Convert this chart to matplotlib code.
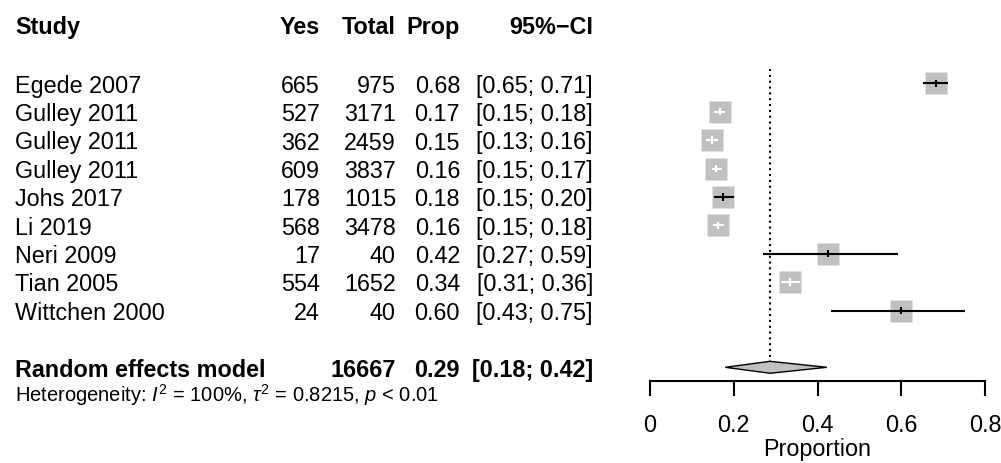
import matplotlib
matplotlib.use("Agg")
import matplotlib.pyplot as plt
from matplotlib.transforms import blended_transform_factory
from matplotlib.patches import Polygon

plt.rcParams['font.family'] = ['Liberation Sans', 'DejaVu Sans']
plt.rcParams['mathtext.fontset'] = 'custom'
plt.rcParams['mathtext.rm'] = 'Liberation Sans'
plt.rcParams['mathtext.it'] = 'Liberation Sans:italic'
plt.rcParams['mathtext.bf'] = 'Liberation Sans:bold'

# ---- data ----
studies = ["Egede 2007", "Gulley 2011", "Gulley 2011", "Gulley 2011", "Johs 2017",
           "Li 2019", "Neri 2009", "Tian 2005", "Wittchen 2000"]
events = [665, 527, 362, 609, 178, 568, 17, 554, 24]
totals = [975, 3171, 2459, 3837, 1015, 3478, 40, 1652, 40]
props = [0.6821, 0.1662, 0.1472, 0.1587, 0.1754, 0.1633, 0.425, 0.3354, 0.600]
ci_low = [0.6517, 0.1534, 0.1333, 0.1473, 0.1522, 0.1512, 0.2704, 0.3126, 0.4333]
ci_high = [0.7113, 0.1796, 0.1620, 0.1708, 0.1999, 0.1759, 0.5911, 0.3581, 0.7514]
pooled_total = 16667
pooled_est = 0.2866
pooled_low = 0.1796
pooled_high = 0.4222
headers = ["Study", "Yes", "Total", "Prop", "95%\u2212CI"]
xticks = [0, 0.2, 0.4, 0.6, 0.8]
xticklabels = ["0", "0.2", "0.4", "0.6", "0.8"]
xlabel = "Proportion"
het_text = r"Heterogeneity: $\mathit{I}^2$ = 100%, $\tau^2$ = 0.8215, $\mathit{p}$ < 0.01"

# ---- layout ----
W, H = 1001, 464
FS = 16.8
row0_px, row_step = 84.3, 28.4
axis_px = 382

fig = plt.figure(figsize=(W / 100, H / 100), dpi=100)
ax = fig.add_axes([650 / W, (H - axis_px) / H, 335 / W, axis_px / H])
ax.set_xlim(0, 0.8)
ax.set_ylim((axis_px - row0_px) / row_step, -row0_px / row_step)

for s in ['top', 'right', 'left']:
    ax.spines[s].set_visible(False)
ax.spines['bottom'].set_linewidth(1.5)
ax.spines['bottom'].set_bounds(0, 0.8)
ax.set_xticks(xticks)
ax.set_xticklabels(xticklabels)
ax.tick_params(axis='x', direction='out', length=10.8, width=1.5, labelsize=FS, pad=12)
ax.tick_params(axis='y', left=False, labelleft=False)
ax.set_xlabel(xlabel, fontsize=FS, labelpad=1)
ax.patch.set_visible(False)

rows = list(range(len(studies)))
pooled_row = 10

# reference dotted line
ax.plot([pooled_est, pooled_est], [-0.5, pooled_row - 0.21], color='black',
        lw=1.5, linestyle=(0, (1, 1.8)), clip_on=False)

# squares
ax.plot(props, rows, 's', ms=15.8, color='#C0C0C0', mec='none', clip_on=False, zorder=2)

# CIs
for r, p, lo, hi in zip(rows, props, ci_low, ci_high):
    col = 'white' if (hi - lo) < 0.046 else 'black'
    ax.plot([lo, hi], [r, r], color=col, lw=1.5, clip_on=False, zorder=3,
            solid_capstyle='butt')
    ax.plot([p, p], [r - 0.13, r + 0.13], color=col, lw=1.5, clip_on=False, zorder=3,
            solid_capstyle='butt')

# diamond
dh = 0.21
diamond = Polygon([[pooled_low, pooled_row], [pooled_est, pooled_row - dh],
                   [pooled_high, pooled_row], [pooled_est, pooled_row + dh]],
                  closed=True, facecolor='#C0C0C0', edgecolor='black', lw=1.0,
                  clip_on=False, zorder=3)
ax.add_patch(diamond)

# ---- text columns ----
tr = blended_transform_factory(fig.transFigure, ax.transData)
col_x = [15 / W, 320 / W, 396 / W, 460 / W, 593 / W]
col_ha = ['left', 'right', 'right', 'right', 'right']
base_off = 8.4 / row_step
header_row = -2.08

for x, ha, h in zip(col_x, col_ha, headers):
    ax.text(x, header_row + base_off, h, transform=tr, ha=ha, va='baseline',
            fontsize=FS, fontweight='bold', clip_on=False)

for r, name, e, n, p, lo, hi in zip(rows, studies, events, totals, props, ci_low, ci_high):
    vals = [name, f"{e}", f"{n}", f"{p:.2f}", f"[{lo:.2f}; {hi:.2f}]"]
    for x, ha, v in zip(col_x, col_ha, vals):
        ax.text(x, r + base_off, v, transform=tr, ha=ha, va='baseline',
                fontsize=FS, clip_on=False)

pooled_vals = ["Random effects model", "", f"{pooled_total}", f"{pooled_est:.2f}",
               f"[{pooled_low:.2f}; {pooled_high:.2f}]"]
for x, ha, v in zip(col_x, col_ha, pooled_vals):
    if v:
        ax.text(x, pooled_row + base_off, v, transform=tr, ha=ha, va='baseline',
                fontsize=FS, fontweight='bold', clip_on=False)

ax.text(15 / W, (402 - row0_px) / row_step, het_text, transform=tr, ha='left',
        va='baseline', fontsize=14.5, clip_on=False)

fig.savefig("out.png", dpi=100)
